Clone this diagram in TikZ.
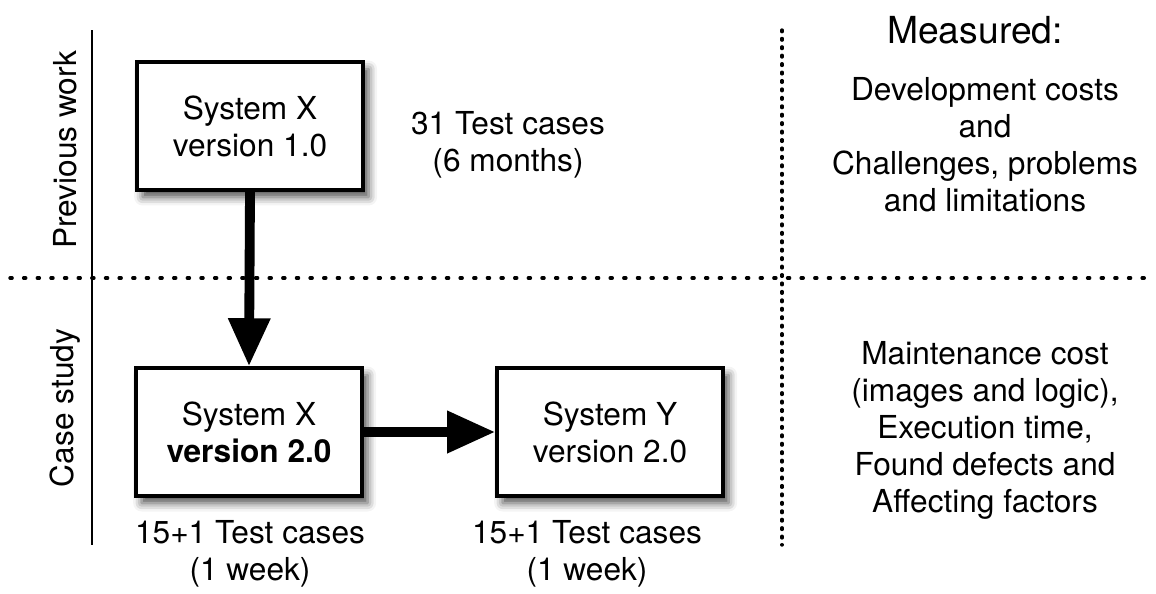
\documentclass[tikz,border=0pt]{standalone}
\usepackage{fontspec}
\setmainfont{TeX Gyre Heros}
\usetikzlibrary{arrows.meta,shadows.blur}

\begin{document}
\begin{tikzpicture}[x=0.025cm,y=-0.025cm,
  texte/.style={align=center,font=\fontsize{22.5}{26.3}\selectfont},
  boite/.style={texte,draw,line width=2.5pt,fill=white,minimum width=5.65cm,minimum height=3.2cm,
    blur shadow={shadow xshift=4pt,shadow yshift=-5pt,shadow blur radius=6pt,shadow opacity=70}},
  fleche/.style={line width=7pt,-{Triangle[length=1.2cm,width=1cm]}},
  pointille/.style={line width=2.4pt,line cap=round}]
\useasboundingbox (0,0) rectangle (1156,593);
% axes
\coordinate (haut) at (92,30);
\coordinate (bas) at (92,545);
\coordinate (gauche) at (10,278);
\coordinate (droite) at (1150,278);
\coordinate (mhaut) at (782,30);
\coordinate (mbas) at (782,545);
\draw [line width=2pt] (haut)--(bas);
\draw [pointille,dash pattern=on 1.5pt off 8.2pt] (gauche)--(droite);
\draw [pointille,dash pattern=on 1.2pt off 4.8pt] (mhaut)--(mbas);
\node [texte,rotate=90] (prev) at (65,150) {Previous work};
\node [texte,rotate=90] (case) at (65,408) {Case study};
% boites
\node [boite] (sx1) at (250,126) {System X\\version 1.0};
\node [boite] (sx2) at (249,432) {System X\\\textbf{version 2.0}};
\node [boite] (sy) at (610,432) {System Y\\version 2.0};
\draw [fleche] (sx1.south)--(sx2.north);
\draw [fleche] (sx2.east)--(sy.west);
\node [texte] (tc31) at (508,145) {31 Test cases\\(6 months)};
\node [texte] (tcx) at (250,554) {15+1 Test cases\\(1 week)};
\node [texte] (tcy) at (587,554) {15+1 Test cases\\(1 week)};
% mesures
\node [texte,font=\fontsize{26.5}{30}\selectfont] (mes) at (975,30) {Measured:};
\node [texte] (mes1) at (985,145) {Development costs\\and\\Challenges, problems\\and limitations};
\node [texte] (mes2) at (985,430) {Maintenance cost\\(images and logic),\\Execution time,\\Found defects and\\Affecting factors};
\end{tikzpicture}
\end{document}
